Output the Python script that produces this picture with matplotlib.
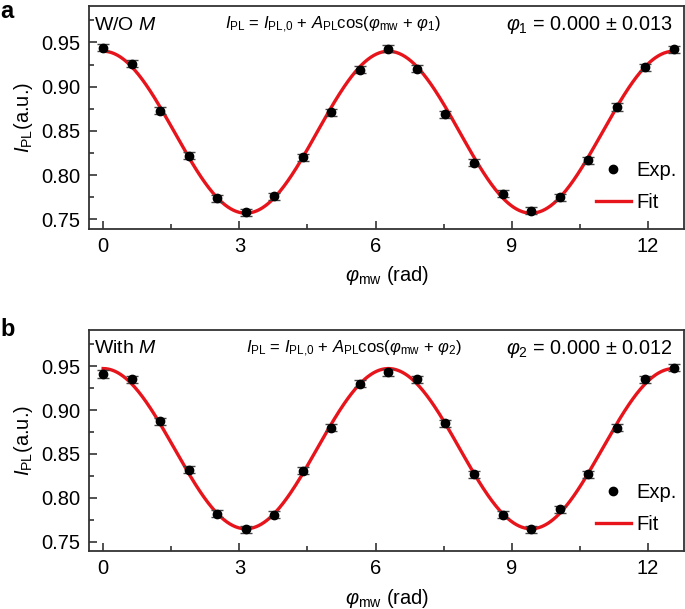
import numpy as np
import matplotlib
matplotlib.use("Agg")
import matplotlib.pyplot as plt
from matplotlib.ticker import MultipleLocator
from matplotlib.lines import Line2D

plt.rcParams['font.family'] = ['Liberation Sans', 'DejaVu Sans']
plt.rcParams['mathtext.fontset'] = 'custom'
plt.rcParams['mathtext.rm'] = 'Liberation Sans'
plt.rcParams['mathtext.it'] = 'Liberation Sans:italic'
plt.rcParams['mathtext.bf'] = 'Liberation Sans:bold'

# ---- data ----
phi_mw = np.arange(21) * np.pi / 5  # 0 .. 4*pi

ipl_a = [0.944, 0.926, 0.873, 0.822, 0.774, 0.758, 0.776, 0.820, 0.871, 0.919, 0.943,
         0.920, 0.869, 0.814, 0.779, 0.760, 0.775, 0.817, 0.877, 0.922, 0.942]
ipl_b = [0.941, 0.935, 0.887, 0.832, 0.782, 0.764, 0.781, 0.831, 0.880, 0.930, 0.943,
         0.935, 0.885, 0.827, 0.781, 0.764, 0.787, 0.827, 0.880, 0.935, 0.948]
err = 0.004

# fit parameters
fit_a = dict(I0=0.8485, A=0.0915, phase=0.0)
fit_b = dict(I0=0.8560, A=0.0912, phase=0.0)

texts_a = dict(tag='a', cond=r'W/O $\mathit{M}$',
               formula=r'$\mathit{I}_{\rm PL}$ = $\mathit{I}_{\rm PL{,}0}$ + $\mathit{A}_{\rm PL}$cos($\varphi_{\rm mw}$ + $\varphi_1$)',
               phase=r'$\varphi_1$ = 0.000 ± 0.013')
texts_b = dict(tag='b', cond=r'With $\mathit{M}$',
               formula=r'$\mathit{I}_{\rm PL}$ = $\mathit{I}_{\rm PL{,}0}$ + $\mathit{A}_{\rm PL}$cos($\varphi_{\rm mw}$ + $\varphi_2$)',
               phase=r'$\varphi_2$ = 0.000 ± 0.012')

fig = plt.figure(figsize=(6.85, 6.09), dpi=100)
ax_a = fig.add_axes([0.130, 0.6245, 0.869, 0.3655])
ax_b = fig.add_axes([0.130, 0.0952, 0.869, 0.3628])

spine_c = '#333333'
red = '#e8141c'

def draw(ax, y, fit, tx, formula_x):
    xx = np.linspace(0, 4 * np.pi, 600)
    ax.plot(xx, fit['I0'] + fit['A'] * np.cos(xx + fit['phase']), color=red, lw=2.4,
            zorder=2)
    ax.errorbar(phi_mw, y, yerr=err, fmt='o', color='black', ms=6, ecolor='#444444',
                elinewidth=1.0, capsize=4.5, capthick=1.0, zorder=3)
    ax.set_xlim(-0.31, 12.8)
    ax.set_ylim(0.7395, 0.991)
    ax.xaxis.set_major_locator(MultipleLocator(3))
    ax.xaxis.set_minor_locator(MultipleLocator(1.5))
    ax.yaxis.set_major_locator(MultipleLocator(0.05))
    ax.yaxis.set_minor_locator(MultipleLocator(0.025))
    ax.yaxis.set_major_formatter(plt.FormatStrFormatter('%.2f'))
    ax.tick_params(which='both', direction='in', color=spine_c, width=1.2,
                   labelsize=14.5, top=False, right=False)
    ax.tick_params(which='major', length=5.5, pad=6)
    ax.tick_params(which='minor', length=3.5)
    for s in ax.spines.values():
        s.set_color(spine_c)
        s.set_linewidth(1.3)
    ax.set_xlabel(r'$\varphi_{\rm mw}$ (rad)', fontsize=14.5, labelpad=6)
    ax.set_ylabel(r'$\mathit{I}_{\rm PL}$(a.u.)', fontsize=14.5, labelpad=5)
    ax.text(0.008, 0.915, tx['cond'], transform=ax.transAxes, fontsize=14,
            ha='left', va='center')
    ax.text(formula_x, 0.915, tx['formula'], transform=ax.transAxes, fontsize=12,
            ha='center', va='center')
    ax.text(0.980, 0.915, tx['phase'], transform=ax.transAxes, fontsize=14.3,
            ha='right', va='center')
    handles = [Line2D([], [], ls='none', marker='o', color='black', ms=6),
               Line2D([], [], color=red, lw=2.4)]
    ax.legend(handles, ['Exp.', 'Fit'], loc='lower right', bbox_to_anchor=(1.0, 0.04),
              frameon=False, fontsize=14.5, handlelength=1.75, handletextpad=0.25,
              labelspacing=0.65, borderaxespad=0.2, borderpad=0.2)

draw(ax_a, ipl_a, fit_a, texts_a, 0.41)
draw(ax_b, ipl_b, fit_b, texts_b, 0.445)

fig.text(0.0, 0.9995, 'a', fontsize=17, fontweight='bold', ha='left', va='top')
fig.text(0.0, 1 - 330 / 609, 'b', fontsize=17, fontweight='bold', ha='left', va='center')

fig.savefig('out.png', dpi=100)
